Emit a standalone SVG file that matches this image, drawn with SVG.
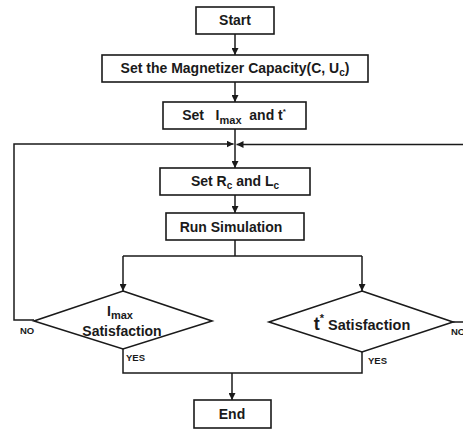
<svg xmlns="http://www.w3.org/2000/svg" width="463" height="429" viewBox="0 0 463 429">
<defs>
<marker id="ah" viewBox="0 0 10 10" refX="10" refY="5" markerWidth="7" markerHeight="7" markerUnits="userSpaceOnUse" orient="auto"><path d="M0,0 L10,5 L0,10 z" fill="#1a1a1a"/></marker>
<style>
.b{fill:#fff;stroke:#1a1a1a;stroke-width:1.6}
.c{fill:none;stroke:#1a1a1a;stroke-width:1.5}
.t{font-family:"Liberation Sans",Arial,sans-serif;font-weight:bold;font-size:14px;fill:#1a1a1a;text-anchor:middle;white-space:pre}
.s{font-family:"Liberation Sans",Arial,sans-serif;font-weight:bold;font-size:9.5px;fill:#1a1a1a}
</style>
</defs>
<rect width="463" height="429" fill="#fff"/>
<g id="connectors">
<path class="c" d="M235,34 V55" marker-end="url(#ah)"/>
<path class="c" d="M235,82 V102" marker-end="url(#ah)"/>
<path class="c" d="M235,129 V168" marker-end="url(#ah)"/>
<path class="c" d="M235,195 V213" marker-end="url(#ah)"/>
<path class="c" d="M235,240 V256 M123,256 H362"/>
<path class="c" d="M123,256 V291" marker-end="url(#ah)"/>
<path class="c" d="M362,256 V291" marker-end="url(#ah)"/>
<path class="c" d="M34,320 H14 V144 H233.5" marker-end="url(#ah)"/>
<path class="c" d="M453,322 H463 M463,144.5 H236.5" marker-end="url(#ah)"/>
<path class="c" d="M123,349 V373 H362 V352"/>
<path class="c" d="M232,373 V400" marker-end="url(#ah)"/>
</g>
<g id="start"><rect class="b" x="196" y="7" width="78" height="27"/><text class="t" x="235" y="25">Start</text></g>
<g id="capacity"><rect class="b" x="102" y="55" width="266" height="27"/><text class="t" x="235" y="73">Set the Magnetizer Capacity(C, U<tspan font-size="10" dy="3">c</tspan><tspan dy="-3">)</tspan></text></g>
<g id="setimax"><rect class="b" x="163" y="102" width="143" height="27"/><text class="t" x="234" y="120" xml:space="preserve">Set   I<tspan font-size="11" dy="4">max</tspan><tspan dy="-4">  and t</tspan><tspan font-size="8" dy="-6">*</tspan></text></g>
<g id="setrl"><rect class="b" x="160" y="168" width="150" height="27"/><text class="t" x="235" y="186">Set R<tspan font-size="10" dy="3">c</tspan><tspan dy="-3"> and L</tspan><tspan font-size="10" dy="3">c</tspan></text></g>
<g id="run"><rect class="b" x="166" y="213" width="138" height="27"/><text class="t" x="231" y="232">Run Simulation</text></g>
<g id="imaxsat"><polygon class="b" points="123,291 212,321 123,349 34,321"/><text class="t" x="120" y="316">I<tspan font-size="11" dy="3">max</tspan></text><text class="t" x="122" y="336">Satisfaction</text><text class="s" x="20" y="334">NO</text><text class="s" x="126" y="361">YES</text></g>
<g id="tsat"><polygon class="b" points="362,291 453,322 362,352 269,322"/><text class="t" x="362" y="330"><tspan font-size="18">t</tspan><tspan font-size="11" dy="-8">*</tspan><tspan dy="8" font-size="14.5"> Satisfaction</tspan></text><text class="s" x="451" y="335">NO</text><text class="s" x="368" y="364">YES</text></g>
<g id="end"><rect class="b" x="194" y="400" width="77" height="28"/><text class="t" x="232" y="419">End</text></g>
</svg>
